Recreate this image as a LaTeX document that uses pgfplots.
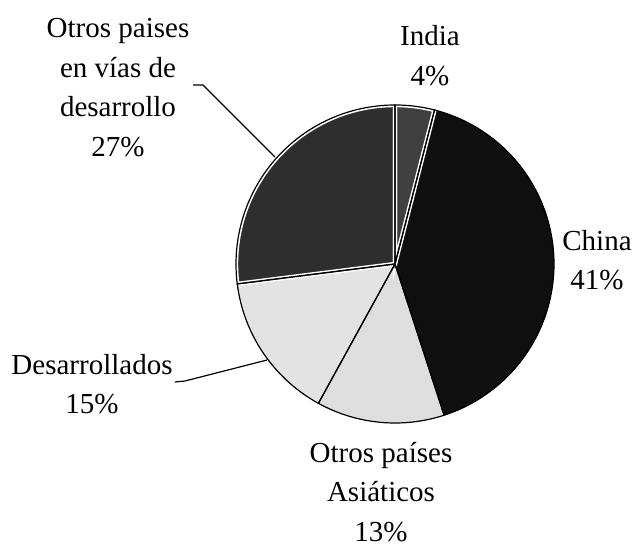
\documentclass[border=0pt]{standalone}
\usepackage{pgfplots}
\pgfplotsset{compat=1.18}
\usepackage{fontspec}
\setmainfont{Liberation Serif}
\tikzset{lbl/.style={align=center, inner sep=0pt, font=\fontsize{14.5bp}{19.75bp}\selectfont}}
% one image pixel = 0.5bp; pie centre (395,281), radius 159 (in image px, y up)
\newcommand{\pieslice}[3]{%
  \addplot[#3, domain={90-3.6*(#1+#2)}:{90-3.6*(#1)}, samples=80, variable=\t]
    ({395+159*cos(t)},{281+159*sin(t)}) -- (axis cs:395,281) -- cycle;
}
\begin{document}
\begin{tikzpicture}
\begin{axis}[hide axis, scale only axis, width=316.5bp, height=272.5bp,
  xmin=0, xmax=633, ymin=0, ymax=545, clip=false]
% cumulative start (%), share (%), style
% India 4, China 41, Otros asiaticos 13, Desarrollados 15, Otros en vias 27
\pieslice{0}{4}{fill=black!75, draw=none}
\pieslice{4}{41}{fill=black!94, draw=none}
\pieslice{45}{13}{fill=black!13, draw=none}
\pieslice{58}{15}{fill=black!11, draw=none}
\pieslice{73}{27}{fill=black!82, draw=none}
% white inner borders
\pieslice{0}{4}{draw=white, line width=2.2bp}
\pieslice{73}{27}{draw=white, line width=2.2bp}
% black outlines
\pieslice{0}{4}{draw=black, line width=0.6bp}
\pieslice{4}{41}{draw=black, line width=0.6bp}
\pieslice{45}{13}{draw=black, line width=0.6bp}
\pieslice{58}{15}{draw=black, line width=0.6bp}
\pieslice{73}{27}{draw=black, line width=0.6bp}
% leader lines
\draw[line width=0.6bp] (axis cs:193,460) -- (axis cs:203,460) -- (axis cs:275,388);
\draw[line width=0.6bp] (axis cs:175,163) -- (axis cs:185,164) -- (axis cs:267,185);
% labels
\node[lbl] at (axis cs:118,457.5) {Otros paises\\en vías de\\desarrollo\\27\%};
\node[lbl] at (axis cs:430,489.5) {India\\4\%};
\node[lbl] at (axis cs:597,285) {China\\41\%};
\node[lbl] at (axis cs:381,53) {Otros países\\Asiáticos\\13\%};
\node[lbl] at (axis cs:92,161) {Desarrollados\\15\%};
\end{axis}
\pgfresetboundingbox
\path[use as bounding box] (current axis.south west) rectangle (current axis.north east);
\end{tikzpicture}
\end{document}
